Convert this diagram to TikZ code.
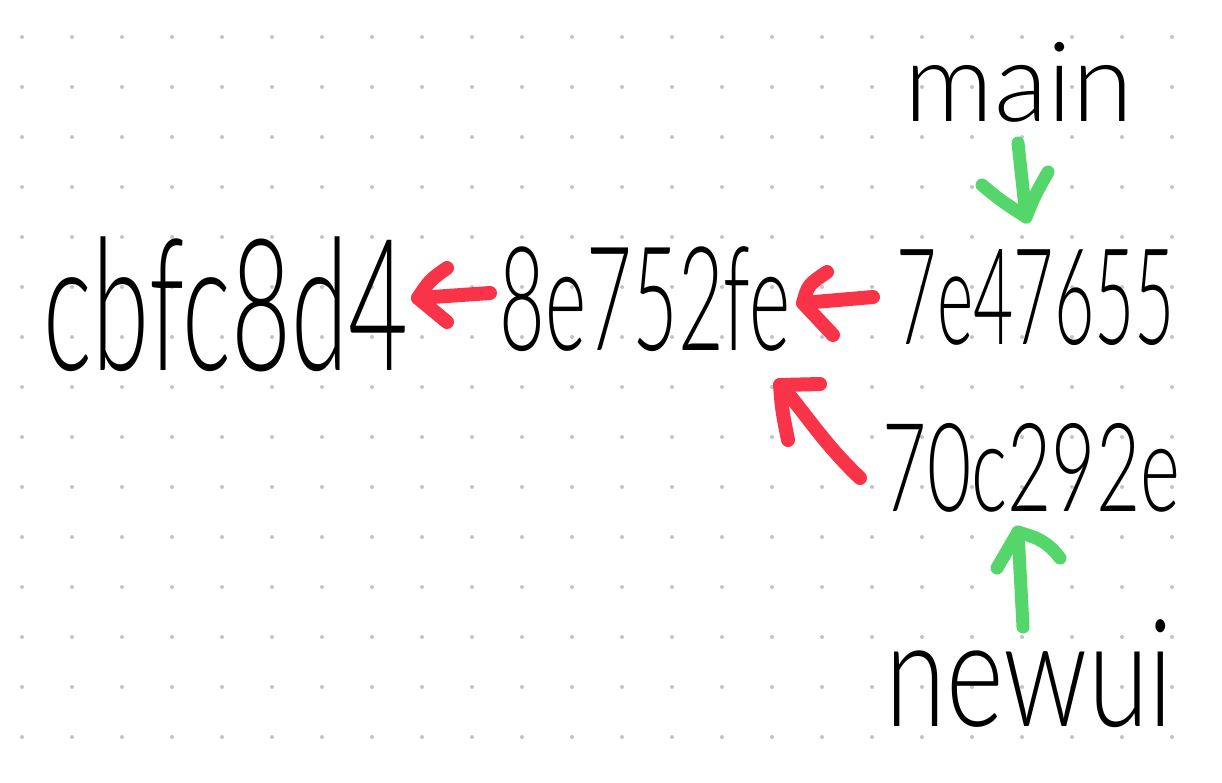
\documentclass[tikz,border=0pt]{standalone}
\usepackage{fontspec}
\setmainfont{Lato}[UprightFont=* Light]
\usepackage{graphicx}
\definecolor{penred}{RGB}{250,52,72}
\definecolor{pengreen}{RGB}{85,214,107}
\definecolor{dotgrey}{RGB}{196,196,196}
\begin{document}
\begin{tikzpicture}[x=1pt,y=-1pt,
  hand/.style={inner sep=0pt, outer sep=0pt, anchor=center},
  redpen/.style={draw=penred, line width=14pt, line cap=round, line join=round},
  greenpen/.style={draw=pengreen, line width=13pt, line cap=round, line join=round}]
\useasboundingbox[fill=white] (0,0) rectangle (1222,782);
\foreach \x in {22,72,...,1172} \foreach \y in {37,87,...,737} \fill[dotgrey] (\x,\y) circle (2);
% labels
\node[hand] (c1) at (226,304.5) {\resizebox*{364pt}{135pt}{cbfc8d4}};
\node[hand] (c2) at (645,299.5) {\resizebox*{290pt}{105pt}{8e752fe}};
\node[hand] (c3) at (1036,298) {\resizebox*{278pt}{96pt}{7e47655}};
\node[hand] (c4) at (1031.5,467.5) {\resizebox*{297pt}{89pt}{70c292e}};
\node[hand] (bmain) at (1019,82) {\resizebox*{228pt}{80pt}{main}};
\node[hand] (bnew) at (1029.5,674) {\resizebox*{287pt}{108pt}{newui}};
% arrow end points
\coordinate (a1s) at (490,293); \coordinate (a1t) at (418,298);
\coordinate (a2s) at (873,297); \coordinate (a2t) at (803,303);
\coordinate (a3s) at (860,478); \coordinate (a3t) at (780,385);
\coordinate (g1s) at (1018,143); \coordinate (g1t) at (1026,217);
\coordinate (g2s) at (1023,627); \coordinate (g2t) at (1018,532);
% red arrows
\draw[redpen] (a1s) -- (a1t);
\draw[redpen] (447,268) .. controls (430,280) .. (a1t) -- (447,322);
\draw[redpen] (a2s) -- (a2t);
\draw[redpen] (827,272) .. controls (808,285) .. (a2t) -- (833,335);
\draw[redpen] (a3s) .. controls (820,440) and (800,405) .. (a3t);
\draw[redpen] (820,384) -- (a3t) .. controls (782,410) .. (788,440);
% green arrows
\draw[greenpen] (g1s) -- (g1t);
\draw[greenpen] (982,185) .. controls (1000,200) .. (g1t) .. controls (1035,195) .. (1048,172);
\draw[greenpen] (g2s) -- (g2t);
\draw[greenpen] (997,568) -- (g2t) .. controls (1030,536) and (1045,538) .. (1060,558);
\end{tikzpicture}
\end{document}
